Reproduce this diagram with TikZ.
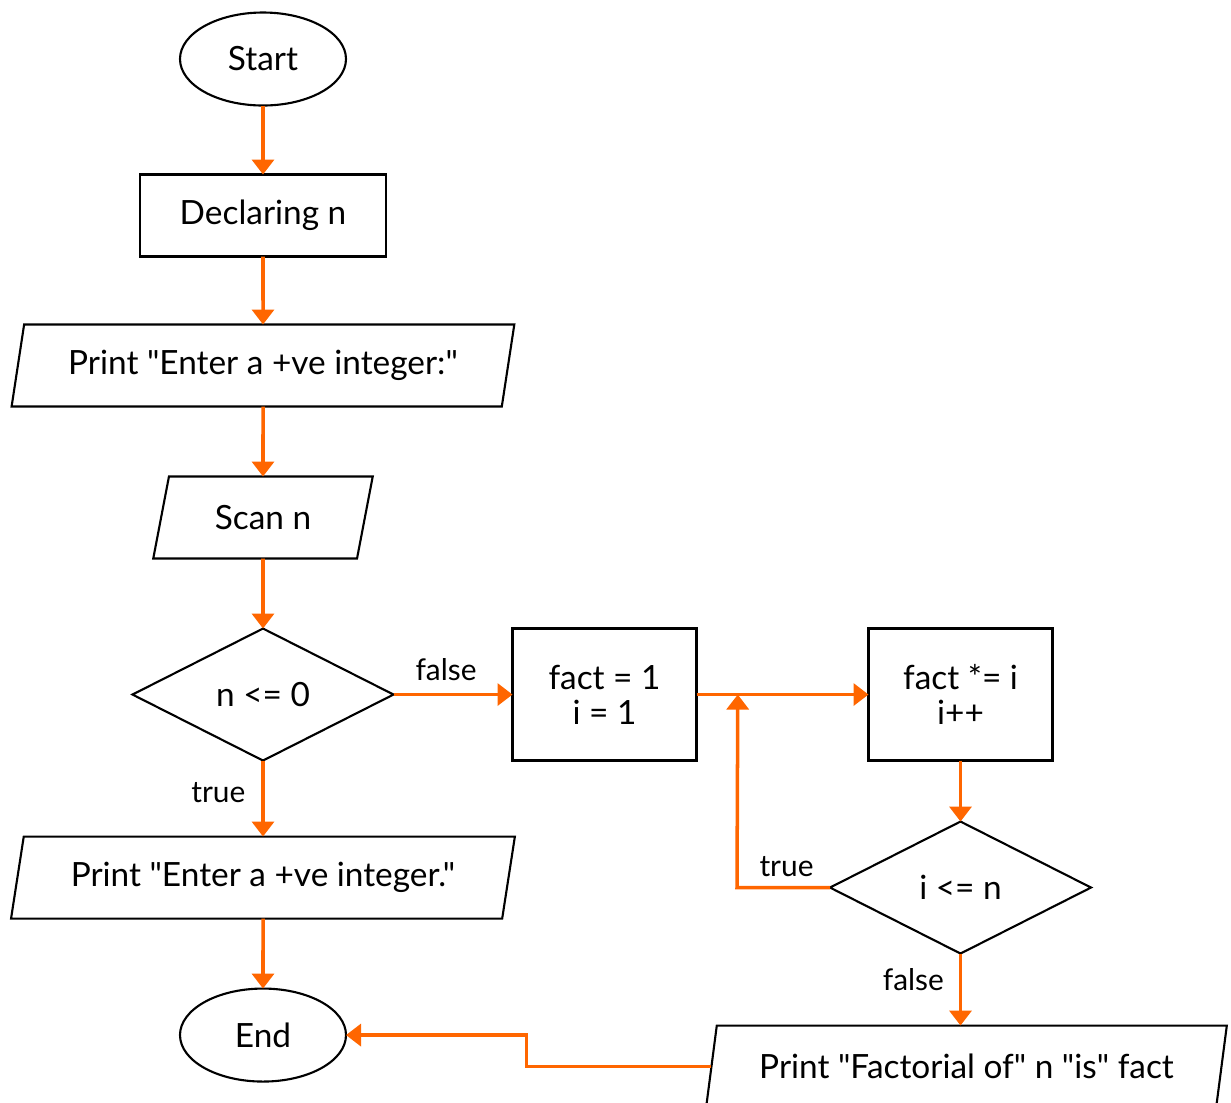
\documentclass[tikz,border=0pt]{standalone}
\usepackage{fontspec}
\setmainfont{Lato}[Ligatures=TeXOff]
\usepackage{xcolor}
\usepackage{tikz}
\usetikzlibrary{shapes.geometric, arrows.meta, positioning, calc}

\definecolor{flow}{HTML}{FF6600}

\begin{document}
\begin{tikzpicture}[
    term/.style={draw, ellipse, line width=1.2pt, outer sep=0pt, minimum width=3.32cm, minimum height=1.86cm, font=\fontsize{19pt}{20pt}\selectfont},
    box/.style={draw, rectangle, line width=1.2pt, outer sep=0pt, minimum width=3.68cm, minimum height=2.64cm, align=center, font=\fontsize{19pt}{20pt}\selectfont},
    io/.style={draw, trapezium, trapezium left angle=76, trapezium right angle=104, trapezium stretches=true, line width=1.2pt, outer sep=0pt, minimum width=10.08cm, minimum height=1.64cm, font=\fontsize{19pt}{20pt}\selectfont},
    decision/.style={draw, diamond, line width=1.2pt, outer sep=0pt, minimum width=5.22cm, minimum height=2.64cm, inner sep=0pt, font=\fontsize{19pt}{20pt}\selectfont},
    lbl/.style={font=\fontsize{17pt}{18pt}\selectfont},
    arrow/.style={line width=2pt, draw=flow, -{Triangle[length=0.3cm, width=0.44cm]}, color=flow}
]
\useasboundingbox (0,0) rectangle (24.62,-22.04);

% Nodes
\node (start) [term] at (5.26,-1.18) {Start};
\node (decl) [box, minimum width=4.92cm, minimum height=1.64cm, below=1.38cm of start] {Declaring n};
\node (askin) [io, below=1.36cm of decl] {Print "Enter a +ve integer:"};
\node (scan) [io, minimum width=4.4cm, below=1.4cm of askin] {Scan n};
\node (check) [decision, below=1.4cm of scan] {n <= 0};
\node (warn) [io, below=1.52cm of check] {Print "Enter a +ve integer."};
\node (stop) [term, below=1.4cm of warn] {End};

\node (init) [box, right=2.38cm of check] {fact = 1\\ i = 1};
\node (body) [box, right=3.44cm of init] {fact *= i\\ i++};
\node (cond) [decision, below=1.22cm of body] {i <= n};
\node (result) [io, minimum width=10.42cm, below=1.44cm of cond, xshift=0.12cm] {Print "Factorial of" n "is" fact};

% Edges
\draw [arrow] (start) -- (decl);
\draw [arrow] (decl) -- (askin);
\draw [arrow] (askin) -- (scan);
\draw [arrow] (scan) -- (check);
\draw [arrow] (check.east) -- node[lbl, above, text=black, xshift=-0.14cm, yshift=0.12cm] {false} (init.west);
\draw [arrow] (check.south) -- node[lbl, left, text=black, xshift=-0.2cm, yshift=0.12cm] {true} (warn.north);
\draw [arrow] (warn) -- (stop);
\draw [arrow] (init.east) -- (body.west);
\draw [arrow] (body) -- (cond);
\draw [arrow] (cond.west) -- node[lbl, above, text=black, xshift=0.06cm, yshift=0.06cm] {true} ++(-1.86,0) -- ($(init.east)!0.24!(body.west)$);
\draw [arrow] (cond.south) -- node[lbl, left, text=black, xshift=-0.18cm, yshift=0.2cm] {false} (cond.south |- result.north);
\draw [arrow] (result.west) -- ++(-3.7,0) |- (stop.east);

\end{tikzpicture}
\end{document}
